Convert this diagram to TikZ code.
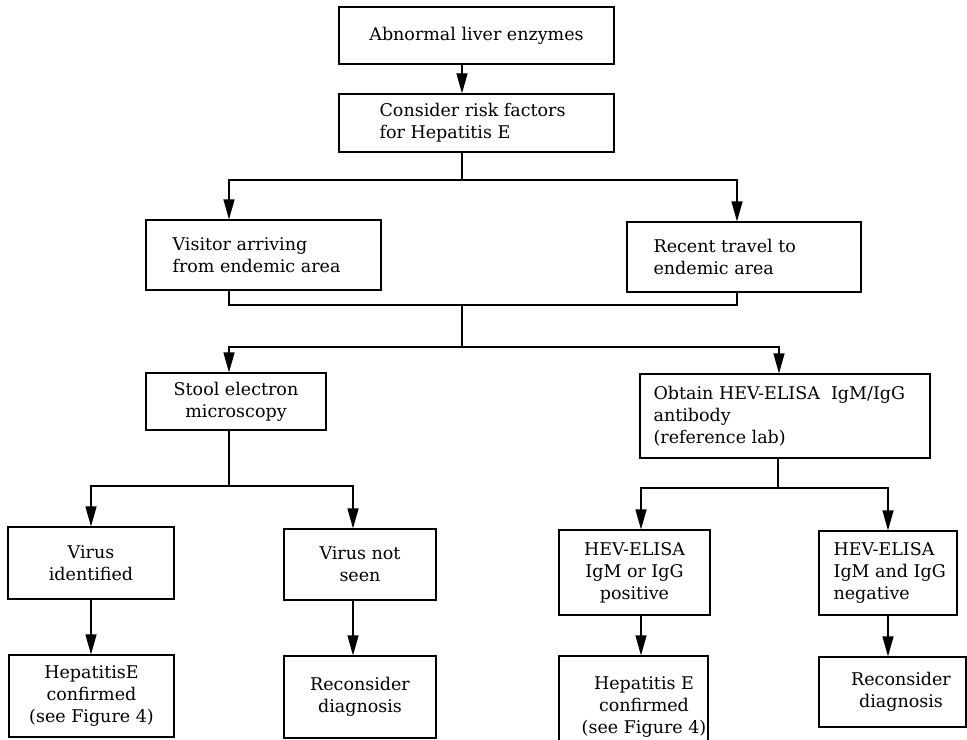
\documentclass[tikz,border=0pt]{standalone}
\usepackage{fontspec}
\setmainfont{DejaVu Serif}
\usetikzlibrary{arrows.meta}
\begin{document}
\begin{tikzpicture}[x=1bp,y=-1bp,
  every node/.style={font=\fontsize{17.5bp}{22bp}\selectfont},
  box/.style 2 args={draw, line width=1.2bp, rectangle, inner sep=0pt,
    minimum width=#1bp, minimum height=#2bp, align=center},
  txt/.style={inner sep=0pt, anchor=west, align=left},
  ctxt/.style={inner sep=0pt, align=center},
  link/.style={line width=1.2bp},
  arr/.style={link, -{Triangle[length=20bp,width=11bp]}}]
\clip (0,0) rectangle (967,740);
\fill[white] (0,0) rectangle (967,740);

% boxes
\node[box={275}{57}] (A) at (476.5,35.5) {Abnormal liver enzymes};
\node[box={275}{58}] (B) at (476.5,123) {};
\node[txt] (Bt) at ([xshift=41bp]B.west) {Consider risk factors\\for Hepatitis E};
\node[box={235}{70}] (C) at (263.5,255) {};
\node[txt] (Ct) at ([xshift=27bp]C.west) {Visitor arriving\\from endemic area};
\node[box={234}{70}] (D) at (744,257) {};
\node[txt] (Dt) at ([xshift=27bp]D.west) {Recent travel to\\endemic area};
\node[box={180}{57}] (E) at (236,401.5) {Stool electron\\microscopy};
\node[box={290}{84}] (F) at (785,416) {};
\node[txt] (Ft) at ([xshift=14bp]F.west) {Obtain HEV-ELISA\ \ IgM/IgG\\antibody\\(reference lab)};
\node[box={166}{72}] (G) at (91,563) {Virus\\identified};
\node[box={165}{82}] (H) at (91.5,696) {HepatitisE\\confirmed\\(see Figure 4)};
\node[box={152}{71}] (I) at (360,564.5) {Virus not\\seen};
\node[box={152}{82}] (J) at (360,697) {Reconsider\\diagnosis};
\node[box={151}{85}] (K) at (634.5,572.5) {HEV-ELISA\\IgM or IgG\\positive};
\node[box={149}{120}] (L) at (633.5,716) {};
\node[ctxt] (Lt) at (644,707) {Hepatitis E\\confirmed\\(see Figure 4)};
\node[box={138}{84}] (M) at (888,573) {};
\node[txt] (Mt) at ([xshift=15bp]M.west) {HEV-ELISA\\IgM and IgG\\negative};
\node[box={147}{70}] (N) at (892.5,692) {};
\node[ctxt] (Nt) at (901,692) {Reconsider\\diagnosis};

% connector columns and junctions
\coordinate (xa) at (462,0);
\coordinate (xc) at (229,0);
\coordinate (xd) at (737,0);
\coordinate (xf) at (779,0);
\coordinate (xi) at (353,0);
\coordinate (xk) at (641,0);
\coordinate (j1) at (462,180);
\coordinate (j2) at (462,305);
\coordinate (j3) at (462,347);
\coordinate (j4) at (229,486);
\coordinate (j5) at (778,488);

% connectors
\draw[arr] (A.south -| xa) -- (B.north -| xa);
\draw[link] (B.south -| xa) -- (j1);
\draw[arr] (j1) -| (C.north -| xc);
\draw[arr] (j1) -| (D.north -| xd);
\draw[link] (C.south -| xc) |- (j2) -| (D.south -| xd);
\draw[link] (j2) -- (j3);
\draw[arr] (j3) -| (E.north -| xc);
\draw[arr] (j3) -| (F.north -| xf);
\draw[link] (E.south -| xc) -- (j4);
\draw[arr] (j4) -| (G.north);
\draw[arr] (j4) -| (I.north -| xi);
\draw[link] (F.south -| j5) -- (j5);
\draw[arr] (j5) -| (K.north -| xk);
\draw[arr] (j5) -| (M.north);
\draw[arr] (G.south) -- (G.south |- H.north);
\draw[arr] (I.south -| xi) -- (J.north -| xi);
\draw[arr] (K.south -| xk) -- (L.north -| xk);
\draw[arr] (M.south) -- (M.south |- N.north);
\end{tikzpicture}
\end{document}
